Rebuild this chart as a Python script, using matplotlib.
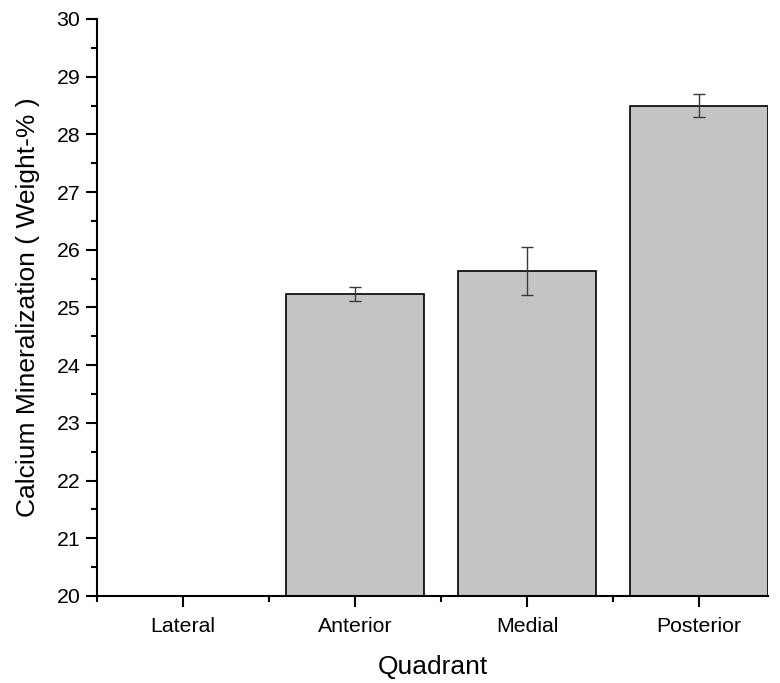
import numpy as np
import matplotlib.pyplot as plt
from matplotlib.ticker import MultipleLocator, FixedLocator

plt.rcParams['font.family'] = ['Liberation Sans', 'DejaVu Sans']

quadrants = ["Lateral", "Anterior", "Medial", "Posterior"]
calcium = [np.nan, 25.24, 25.63, 28.50]
calcium_err = [np.nan, 0.12, 0.41, 0.20]

fig = plt.figure(figsize=(7.8, 6.83), dpi=100)
ax = fig.add_axes([0.1244, 0.1274, 0.8603, 0.8448])

x = np.arange(len(quadrants))
base = 20
heights = [v - base for v in calcium]
ax.bar(x, heights, bottom=base, width=0.8, color="#c4c4c4",
       edgecolor="black", linewidth=1.2, zorder=2)
ax.errorbar(x, calcium, yerr=calcium_err, fmt="none", ecolor="#3a3a3a",
            elinewidth=1.0, capsize=4, capthick=1.0, zorder=3)

ax.set_xlim(-0.5, 3.4)
ax.set_ylim(20, 30)
ax.set_xticks(x)
ax.set_xticklabels(quadrants)
ax.xaxis.set_minor_locator(FixedLocator([-0.5, 0.5, 1.5, 2.5]))
ax.yaxis.set_major_locator(MultipleLocator(1))
ax.yaxis.set_minor_locator(MultipleLocator(0.5))

ax.spines['top'].set_visible(False)
ax.spines['right'].set_visible(False)
for s in ['left', 'bottom']:
    ax.spines[s].set_linewidth(1.5)

ax.tick_params(axis='both', which='major', direction='out', length=8,
               width=1.5, labelsize=15.3)
ax.tick_params(axis='x', which='major', pad=7)
ax.tick_params(axis='y', which='major', pad=4)
ax.tick_params(axis='both', which='minor', direction='out', length=4.5,
               width=1.5)

ax.set_xlabel("Quadrant", fontsize=19, labelpad=14)
ax.set_ylabel("Calcium Mineralization ( Weight-% )", fontsize=19, labelpad=12)

fig.savefig("out.png", dpi=100)
